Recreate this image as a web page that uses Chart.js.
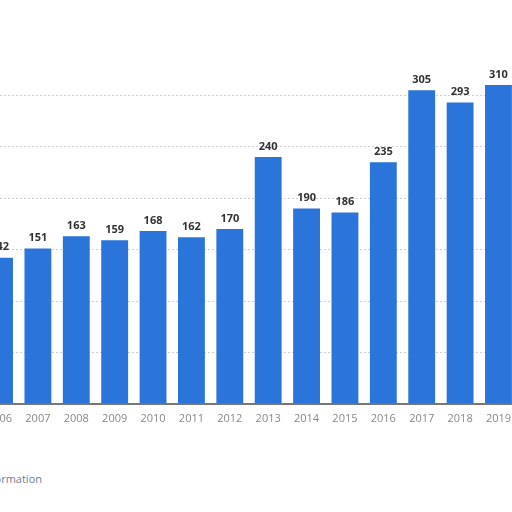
<!DOCTYPE html>
<html>
<head>
<meta charset="utf-8">
<script src="https://cdn.jsdelivr.net/npm/chart.js@4/dist/chart.umd.min.js"></script>
<style>
  html, body { margin: 0; padding: 0; background: #fff; overflow: hidden; width: 512px; height: 512px; }
  #wrap { position: absolute; left: -21px; top: 0; width: 540px; height: 438px; }
  #note { position: absolute; left: -200px; top: 471px; width: 242px; text-align: right;
          font: 11px "Open Sans", sans-serif; color: #6b8299; }
</style>
</head>
<body>
<div id="wrap"><canvas id="barYears" width="540" height="438"></canvas></div>
<div id="note">Additional Information</div>
<script>
// years and values
const years = ['2006', '2007', '2008', '2009', '2010', '2011', '2012', '2013', '2014', '2015', '2016', '2017', '2018', '2019']
const values = [142, 151, 163, 159, 168, 162, 170, 240, 190, 186, 235, 305, 293, 310]
const yTicks = [0, 50, 100, 150, 200, 250, 300, 350]

Chart.defaults.font.family = '"Open Sans", sans-serif'
Chart.defaults.font.size = 11

// value labels above each bar
const barLabels = {
  id: 'barLabels',
  afterDatasetsDraw(chart) {
    const ctx = chart.ctx
    ctx.save()
    ctx.font = 'bold 11px "Open Sans", sans-serif'
    ctx.fillStyle = '#333'
    ctx.textAlign = 'center'
    ctx.textBaseline = 'bottom'
    chart.getDatasetMeta(0).data.forEach((bar, i) => {
      ctx.fillText(values[i], bar.x, bar.y - 5)
    })
    ctx.restore()
  }
}

const data1 = {
  labels: years,
  datasets: [{
    label: 'Value',
    data: values,
    backgroundColor: '#2b74d9',
    categoryPercentage: 0.7,
    barPercentage: 1,
  }]
}

const config1 = {
  type: 'bar',
  data: data1,
  options: {
    responsive: false,
    animation: false,
    layout: { padding: { top: 44, bottom: 5, left: 0, right: 0 } },
    plugins: { legend: { display: false }, tooltip: { enabled: false } },
    scales: {
      x: {
        grid: { display: false, drawTicks: false },
        border: { color: '#777', width: 2 },
        ticks: { color: '#888', padding: 8 },
      },
      y: {
        min: 0,
        max: 350,
        afterBuildTicks: (axis) => { axis.ticks = yTicks.map(v => ({ value: v })) },
        ticks: { display: false },
        grid: {
          color: (c) => (c.tick && c.tick.value > 0 && c.tick.value < 350) ? '#cfcfcf' : 'rgba(0,0,0,0)',
          drawTicks: false,
        },
        border: { display: false, dash: [2, 2] },
      }
    }
  },
  plugins: [barLabels],
}

const barYearsChart = new Chart(document.getElementById('barYears'), config1)
</script>
</body>
</html>
